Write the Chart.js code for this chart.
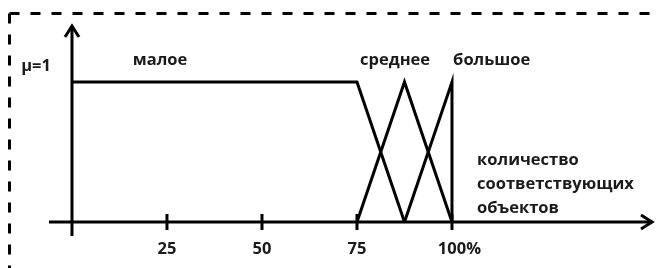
<!DOCTYPE html>
<html>
<head>
<meta charset="utf-8">
<script src="https://cdn.jsdelivr.net/npm/chart.js@4/dist/chart.umd.min.js"></script>
<style>
  html, body { margin: 0; padding: 0; background: #fff; }
  canvas { display: block; }
</style>
</head>
<body>
<canvas id="c" width="659" height="268"></canvas>
<script>
// ---- data ----
const categories = ['малое', 'среднее', 'большое'];
const maloeX = [0, 75, 87.5];
const maloeY = [1, 1, 0];
const sredneeX = [75, 87.5, 100];
const sredneeY = [0, 1, 0];
const bolshoeX = [87.5, 100, 100];
const bolshoeY = [0, 1, 0];
const xTickValues = [25, 50, 75, 100];
const xTickLabels = ['25', '50', '75', '100%'];
const yMarkLabel = 'μ=1';
const xTitleLines = ['количество', 'соответствующих', 'объектов'];

function pts(xs, ys) { return xs.map((x, i) => ({ x: x, y: ys[i] })); }

// ---- label anchors (data coordinates, styling kept separate) ----
const labelAnchors = [
  { text: categories[0], x: 16, y: 1.12 },
  { text: categories[1], x: 75.8, y: 1.12 },
  { text: categories[2], x: 100.3, y: 1.12 }
];

const FONT = '700 16.5px "Open Sans", "DejaVu Sans", sans-serif';
const INK = '#1a1a1a';

const decor = {
  id: 'decor',
  beforeDraw(chart) {
    const c = chart.ctx;
    c.save();
    c.strokeStyle = '#000';
    c.lineWidth = 3;
    c.setLineDash([10, 11]);
    c.beginPath();
    c.moveTo(9.5, 13.5);
    c.lineTo(chart.width + 5, 13.5);
    c.moveTo(9.5, 13.5);
    c.lineTo(9.5, chart.height + 5);
    c.stroke();
    c.restore();
  },
  afterDatasetsDraw(chart) {
    const c = chart.ctx;
    const xs = chart.scales.x, ys = chart.scales.y;
    const x0 = xs.getPixelForValue(0);
    const y0 = ys.getPixelForValue(0);
    const y1 = ys.getPixelForValue(1);
    const left = xs.getPixelForValue(xs.min);
    const right = xs.getPixelForValue(xs.max);
    const top = ys.getPixelForValue(ys.max);
    const bottom = ys.getPixelForValue(ys.min);
    c.save();
    c.strokeStyle = '#000';
    c.lineWidth = 3;
    c.lineJoin = 'miter';
    c.lineCap = 'butt';
    // axes
    c.beginPath();
    c.moveTo(left, y0); c.lineTo(right - 1, y0);
    c.moveTo(x0, bottom); c.lineTo(x0, top + 1);
    c.stroke();
    // arrowheads
    c.beginPath();
    c.moveTo(right - 12, y0 - 7); c.lineTo(right - 1, y0); c.lineTo(right - 12, y0 + 7);
    c.moveTo(x0 - 7, top + 12); c.lineTo(x0, top + 1); c.lineTo(x0 + 7, top + 12);
    c.stroke();
    // tick marks
    c.beginPath();
    xTickValues.forEach(v => {
      const px = xs.getPixelForValue(v);
      c.moveTo(px, y0 - 8); c.lineTo(px, y0 + 8);
    });
    c.stroke();

    // texts
    c.fillStyle = INK;
    c.font = FONT;
    c.textBaseline = 'alphabetic';
    // tick labels (numeric part centred on tick)
    xTickValues.forEach((v, i) => {
      const px = xs.getPixelForValue(v);
      const lab = xTickLabels[i];
      const core = lab.replace('%', '');
      const w = c.measureText(core).width;
      c.textAlign = 'left';
      c.fillText(lab, px - w / 2, y0 + 32);
    });
    // mu=1
    c.textAlign = 'right';
    c.fillText(yMarkLabel, x0 - 21, y1 - 11);
    // category labels
    c.textAlign = 'left';
    labelAnchors.forEach(a => {
      c.fillText(a.text, xs.getPixelForValue(a.x), ys.getPixelForValue(a.y));
    });
    // axis title
    const tx = xs.getPixelForValue(106.6);
    xTitleLines.forEach((t, i) => {
      c.fillText(t, tx, y0 - 57 + i * 24);
    });
    c.restore();
  }
};

new Chart(document.getElementById('c'), {
  type: 'line',
  data: {
    datasets: [
      { label: categories[0], data: pts(maloeX, maloeY) },
      { label: categories[1], data: pts(sredneeX, sredneeY) },
      { label: categories[2], data: pts(bolshoeX, bolshoeY) }
    ]
  },
  options: {
    responsive: false,
    animation: false,
    devicePixelRatio: 1,
    layout: { padding: { left: 49, right: 6, top: 25, bottom: 32 } },
    scales: {
      x: { type: 'linear', min: -6.05, max: 152.9, display: false },
      y: { type: 'linear', min: -0.1, max: 1.4071, display: false }
    },
    elements: {
      point: { radius: 0 },
      line: { tension: 0, borderWidth: 3, borderColor: '#000', fill: false, borderJoinStyle: 'miter' }
    },
    plugins: { legend: { display: false }, tooltip: { enabled: false } }
  },
  plugins: [decor]
});
</script>
</body>
</html>
